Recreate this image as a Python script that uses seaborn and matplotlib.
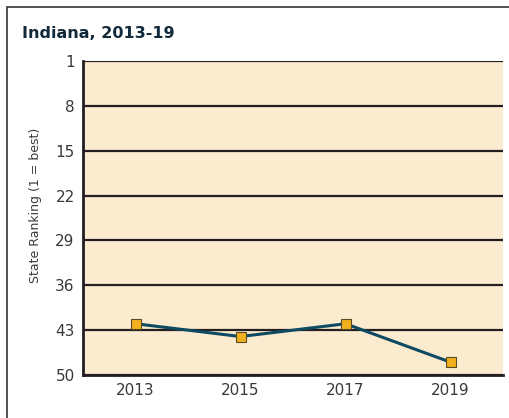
import matplotlib
matplotlib.use("Agg")
import matplotlib.pyplot as plt
import seaborn as sns
import pandas as pd
from matplotlib.patches import Rectangle

years = [2013, 2015, 2017, 2019]
ranks = [42, 44, 42, 48]
ytick_vals = [1, 8, 15, 22, 29, 36, 43, 50]
title = "Indiana, 2013-19"
ylabel = "State Ranking (1 = best)"

df = pd.DataFrame({"year": years, "rank": ranks})

sns.set_style("white")
plt.rcParams["font.family"] = ["DejaVu Sans"]

fig = plt.figure(figsize=(5.09, 4.18), dpi=100)
ax = fig.add_axes([83/509, 1-375/418, (503-83)/509, (375-61)/418])
ax.set_facecolor("#fbebcf")

for v in ytick_vals:
    ax.axhline(v, color="#231f20", lw=1.6, zorder=1)

sns.lineplot(data=df, x="year", y="rank", ax=ax, color="#0f4a63", lw=2.2,
             marker="s", markersize=7.5, markerfacecolor="#f2b01e",
             markeredgecolor="#5a4a20", markeredgewidth=0.8, zorder=3)

ax.set_xlim(2012, 2020)
ax.set_ylim(50, 1)
ax.set_yticks(ytick_vals)
ax.set_yticklabels([str(v) for v in ytick_vals], fontsize=11, color="#3a3a3a")
ax.set_xticks(years)
ax.set_xticklabels([str(y) for y in years], fontsize=11, color="#3a3a3a")
ax.tick_params(axis="both", length=0, pad=6)
ax.set_xticks([2014, 2016, 2018], minor=True)
ax.tick_params(axis="x", which="minor", direction="in", length=6, width=1.6, color="#231f20")
ax.set_xlabel("")
ax.set_ylabel(ylabel, fontsize=9, color="#3a3a3a")
ax.yaxis.set_label_coords(-0.097, 0.54)

for s in ["top", "right"]:
    ax.spines[s].set_visible(False)
for s in ["left", "bottom"]:
    ax.spines[s].set_color("#231f20")
    ax.spines[s].set_linewidth(2)

fig.text(22/509, 1-33/418, title, fontsize=11.5, fontweight="heavy",
         color="#12293a", va="center", ha="left")

fig.patches.append(Rectangle((7/509, -0.1), 1.2, 1-7/418+0.1, transform=fig.transFigure,
                             fill=False, edgecolor="#333333", lw=1.2))

fig.savefig("out.png", dpi=100)
